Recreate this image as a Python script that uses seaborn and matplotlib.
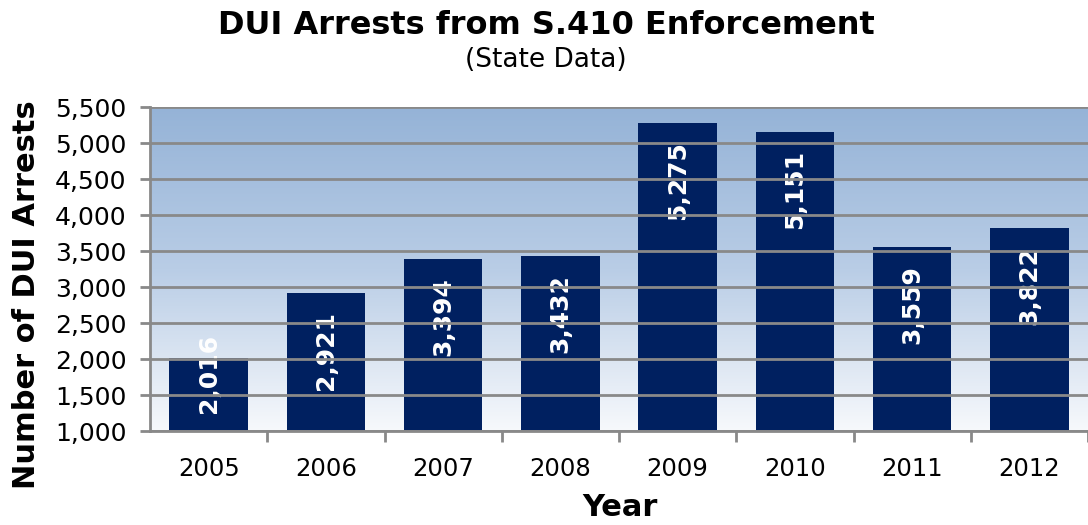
import numpy as np
import pandas as pd
import matplotlib
matplotlib.use("Agg")
import matplotlib.pyplot as plt
from matplotlib.colors import LinearSegmentedColormap
from matplotlib.ticker import FuncFormatter, FixedLocator
import seaborn as sns

# Annual DUI arrests under S.410 enforcement
years = ["2005", "2006", "2007", "2008", "2009", "2010", "2011", "2012"]
arrests = [2016, 2921, 3394, 3432, 5275, 5151, 3559, 3822]
y_ticks = [1000, 1500, 2000, 2500, 3000, 3500, 4000, 4500, 5000, 5500]

sns.set_theme(style="white")
plt.rcParams["font.family"] = ["DejaVu Sans"]
plt.rcParams["text.color"] = "black"
plt.rcParams["xtick.color"] = "black"
plt.rcParams["ytick.color"] = "black"

df = pd.DataFrame({"Year": years, "Arrests": arrests})

fig = plt.figure(figsize=(10.88, 5.25), dpi=100)
ax = fig.add_axes([0.1379, 0.179, 0.8621, 0.617])

bar_color = "#002060"
grid_color = "#898989"

sns.barplot(data=df, x="Year", y="Arrests", color=bar_color, saturation=1,
            width=0.67, linewidth=0, ax=ax, zorder=2)

ax.set_ylim(1000, 5500)
ax.set_xlim(-0.5, len(years) - 0.5)

# Blue-to-white gradient plot area
grad = np.linspace(0, 1, 256).reshape(-1, 1)
cmap = LinearSegmentedColormap.from_list("bg", ["#f7f9fc", "#b9cde6", "#95b3d7"])
ax.imshow(grad, aspect="auto", cmap=cmap, origin="lower",
          extent=[-0.5, len(years) - 0.5, 1000, 5500], zorder=0)

# Horizontal gridlines drawn over the bars and their labels
for t in y_ticks:
    ax.axhline(t, color=grid_color, lw=2, zorder=3)

ax.yaxis.set_major_locator(FixedLocator(y_ticks))
ax.yaxis.set_major_formatter(FuncFormatter(lambda v, p: f"{int(v):,}"))
ax.tick_params(axis="y", which="major", direction="out", length=7, width=2,
               color=grid_color, labelcolor="black", labelsize=18, pad=10, left=True)

# Category tick marks sit between the bars
ax.set_xticks(np.arange(len(years)) + 0.5, minor=True)
ax.tick_params(axis="x", which="minor", direction="out", length=8, width=2,
               color=grid_color, bottom=True)
ax.tick_params(axis="x", which="major", length=0, labelsize=17.5,
               labelcolor="black", pad=19)

for side in ["top", "right"]:
    ax.spines[side].set_visible(False)
for side in ["left", "bottom"]:
    ax.spines[side].set_color(grid_color)
    ax.spines[side].set_linewidth(2)
    ax.spines[side].set_zorder(4)

ax.set_xlabel("")
ax.set_ylabel("")
fig.text(620 / 1088, 1 - 508 / 525, "Year", ha="center", va="center",
         fontsize=22, fontweight="bold")
fig.text(27 / 1088, 1 - 295 / 525, "Number of DUI Arrests", ha="center", va="center",
         rotation=90, fontsize=22, fontweight="bold")

# Value labels inside the top of each bar
for i, v in enumerate(arrests):
    anchor = max(v, 2600)
    ax.annotate(f"{v:,}", xy=(i, anchor), xytext=(0, -13), textcoords="offset points",
                rotation=90, ha="center", va="top", color="white",
                fontsize=18, fontweight="bold", zorder=2.5)

fig.text(546 / 1088, 1 - 25 / 525, "DUI Arrests from S.410 Enforcement", ha="center",
         va="center", fontsize=23, fontweight="bold")
fig.text(546 / 1088, 1 - 60 / 525, "(State Data)", ha="center", va="center", fontsize=19)

fig.savefig("out.png", dpi=100)
